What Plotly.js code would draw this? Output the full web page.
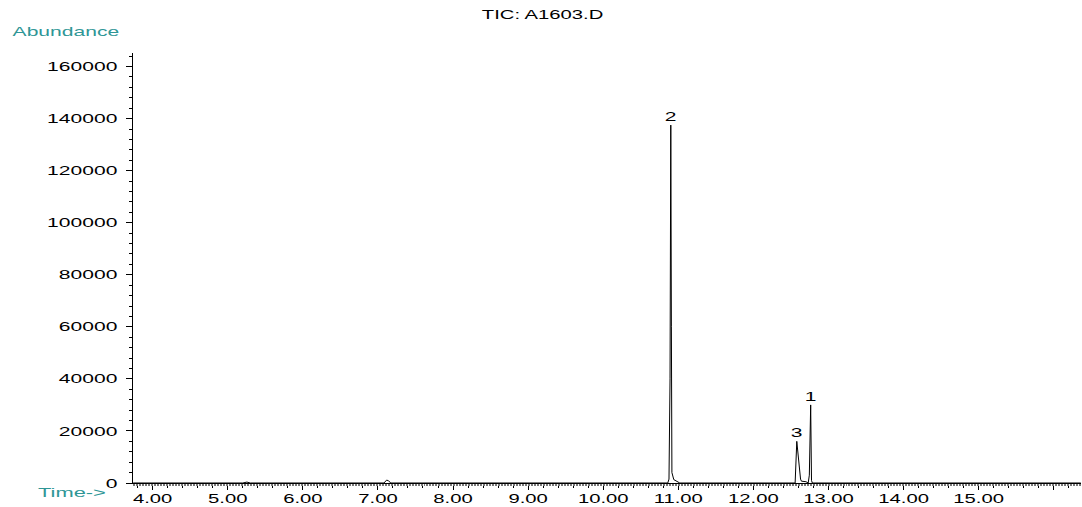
<!DOCTYPE html>
<html>
<head>
<meta charset="utf-8">
<script src="https://cdn.plot.ly/plotly-3.0.1.min.js"></script>
<style>
  html, body { margin: 0; padding: 0; background: #fff; }
  #chart { width: 1082px; height: 507px; }
</style>
</head>
<body>
<div id="chart"></div>
<script>
// ---- data ----
const timeMin = [3.74, 5.20, 5.255, 5.275, 5.30, 7.08, 7.115, 7.14, 7.17,
  10.86, 10.876, 10.89, 10.900, 10.908, 10.915, 10.94, 10.99, 11.02,
  12.556, 12.567, 12.578, 12.628, 12.64, 12.70, 12.72,
  12.73, 12.745, 12.763, 12.774, 12.785, 16.36];
const abundance = [0, 0, 350, 300, 0, 0, 1100, 900, 0,
  0, 1500, 40000, 137500, 60000, 4000, 1300, 500, 0,
  0, 13000, 16000, 1500, 700, 500, 0,
  0, 3000, 30000, 1000, 0, 0];

const peakLabels = ["1", "2", "3"];
const peakTimes = [12.763, 10.900, 12.578];
const peakHeights = [30000, 137500, 16000];

const yTickVals = [0, 20000, 40000, 60000, 80000, 100000, 120000, 140000, 160000];
const yTickText = ["0", "20000", "40000", "60000", "80000", "100000", "120000", "140000", "160000"];
const xTickVals = [4, 5, 6, 7, 8, 9, 10, 11, 12, 13, 14, 15, 16];
const xTickText = ["4.00", "5.00", "6.00", "7.00", "8.00", "9.00", "10.00", "11.00", "12.00", "13.00", "14.00", "15.00", ""];

const chartTitle = "TIC: A1603.D";
const yLabel = "Abundance";
const xLabel = "Time->";

// ---- styling ----
const FONT = "Liberation Sans, Arial, Helvetica, sans-serif";
const TEAL = "#2f9696";
const X_RANGE = [3.738, 16.363];
const Y_RANGE = [0, 165200];

const traces = [
  {
    x: timeMin, y: abundance, type: "scatter", mode: "lines",
    line: { color: "#000", width: 1 }, hoverinfo: "x+y", showlegend: false
  },
  {
    x: timeMin, y: abundance, xaxis: "x2", type: "scatter", mode: "lines",
    opacity: 0, hoverinfo: "skip", showlegend: false
  }
];

const annotations = peakLabels.map((lab, i) => ({
  x: peakTimes[i], y: peakHeights[i], xref: "x", yref: "y",
  text: lab, showarrow: false, xanchor: "center", yanchor: "bottom",
  font: { family: FONT, size: 13, color: "#000" }, yshift: -1
}));
annotations.push({
  xref: "paper", yref: "paper", x: (542 - 133) / 948, y: (483 - 14.5) / 430,
  text: chartTitle, showarrow: false, xanchor: "center", yanchor: "middle",
  font: { family: FONT, size: 12.5, color: "#000" }
});
annotations.push({
  xref: "paper", yref: "paper", x: (66 - 133) / 948, y: (483 - 31) / 430,
  text: yLabel, showarrow: false, xanchor: "center", yanchor: "middle",
  font: { family: FONT, size: 13, color: TEAL }
});
annotations.push({
  xref: "paper", yref: "paper", x: (71.5 - 133) / 948, y: (483 - 492) / 430,
  text: xLabel, showarrow: false, xanchor: "center", yanchor: "middle",
  font: { family: FONT, size: 13.5, color: TEAL }
});

const layout = {
  width: 1082, height: 507,
  margin: { l: 133, r: 1, t: 53, b: 24, pad: 0 },
  paper_bgcolor: "#fff", plot_bgcolor: "#fff",
  font: { family: FONT, size: 13, color: "#000" },
  xaxis: {
    range: X_RANGE, showgrid: false, zeroline: false,
    showline: true, linecolor: "#000", linewidth: 1,
    tickmode: "array", tickvals: xTickVals, ticktext: xTickText,
    ticks: "outside", ticklen: 6, tickcolor: "#000", tickwidth: 1,
    minor: { tick0: 4, dtick: 0.2, ticks: "outside", ticklen: 4, tickcolor: "#000", tickwidth: 1, showgrid: false },
    tickfont: { family: FONT, size: 12.5, color: "#000" },
    ticklabelstandoff: -2
  },
  xaxis2: {
    range: X_RANGE, overlaying: "x", anchor: "y", side: "bottom",
    showgrid: false, zeroline: false, showline: false, showticklabels: false,
    tick0: 4, dtick: 0.02, ticks: "outside", ticklen: 2, tickcolor: "#777", tickwidth: 1
  },
  yaxis: {
    range: Y_RANGE, showgrid: false, zeroline: false,
    showline: true, linecolor: "#000", linewidth: 1,
    tickmode: "array", tickvals: yTickVals, ticktext: yTickText,
    ticks: "outside", ticklen: 6, tickcolor: "#000", tickwidth: 1,
    minor: { dtick: 4000, ticks: "outside", ticklen: 3, tickcolor: "#000", tickwidth: 1, showgrid: false },
    tickfont: { family: FONT, size: 13, color: "#000" },
    ticklabelstandoff: 6
  },
  annotations: annotations,
  showlegend: false
};

const gd = document.getElementById("chart");
Plotly.newPlot(gd, traces, layout, { staticPlot: true, displayModeBar: false }).then(() => {
  // the reference font is a horizontally stretched sans: widen every text around its anchor
  const SX = 1.62;
  gd.querySelectorAll("svg text").forEach(t => {
    const x = parseFloat(t.getAttribute("x")) || 0;
    const tr = t.getAttribute("transform") || "";
    t.setAttribute("transform", tr + " translate(" + x + ",0) scale(" + SX + ",1) translate(" + (-x) + ",0)");
  });
});
</script>
</body>
</html>
